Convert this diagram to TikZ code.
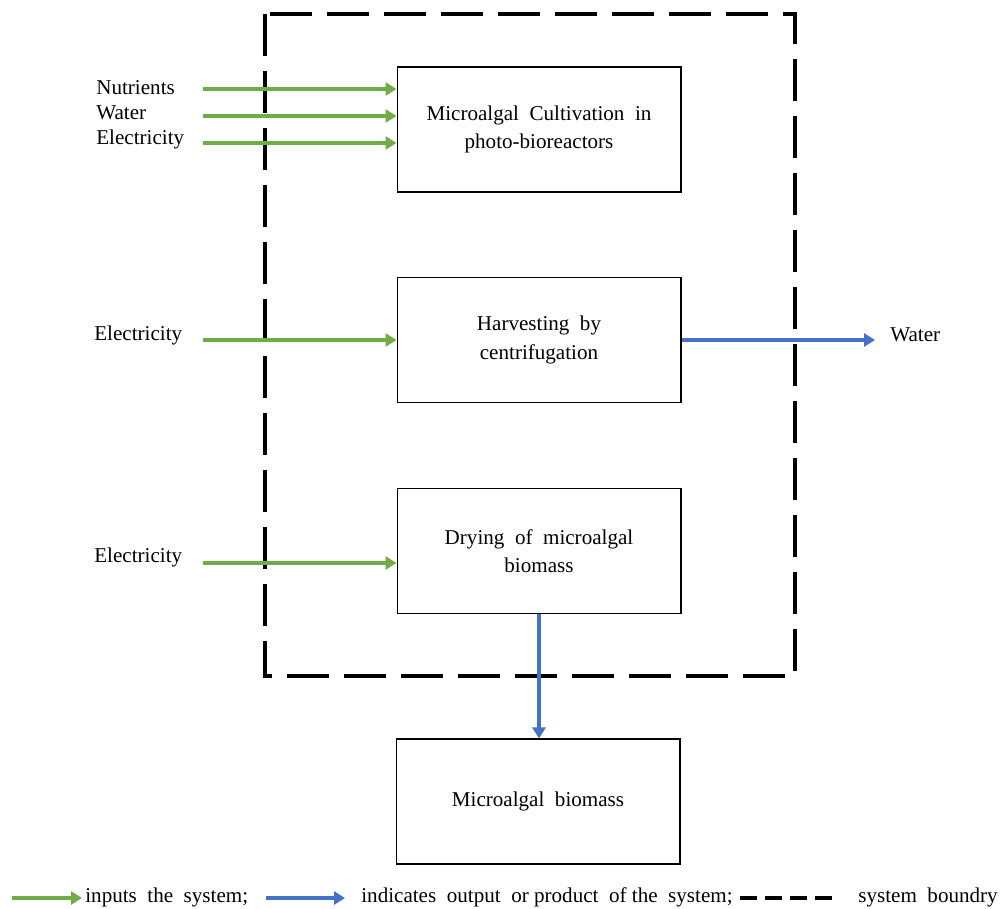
\documentclass[tikz,border=0pt]{standalone}
\usepackage{fontspec}
\setmainfont{Liberation Serif}
\usepackage{tikz}
\usetikzlibrary{arrows.meta}
\usetikzlibrary{positioning, calc}

\definecolor{ingreen}{RGB}{112,173,71}
\definecolor{outblue}{RGB}{68,114,196}

\begin{document}
\begin{tikzpicture}[x=0.02cm, y=-0.02cm, font=\fontsize{12}{16}\selectfont,
    inarrow/.style={draw=ingreen, line width=2.2pt, -{Triangle[length=0.22cm 0 0, width=0.26cm 0 0]}},
    outarrow/.style={draw=outblue, line width=2.2pt, -{Triangle[length=0.22cm 0 0, width=0.26cm 0 0]}},
    boundary/.style={line width=2.4pt, dash pattern=on 0.84cm off 0.3cm}]
    \useasboundingbox (0,0) rectangle (1007,909);

    % process boxes
    \begin{scope}[every node/.style={draw, line width=0.6pt, minimum width=5.68cm, minimum height=2.5cm, align=center}]
    \node (cult) at (539,129.5) {Microalgal\ \ Cultivation\ \ in\\photo-bioreactors};
    \node (harv) at (539,340) {Harvesting\ \ by\\centrifugation};
    \node (dry) at (539,551) {Drying\ \ of\ \ microalgal\\biomass};
    \node (bio) at (538,801.5) {Microalgal\ \ biomass};
    \end{scope}

    % system boundary
    \draw[boundary] (265,14) rectangle (795,676);

    % inputs
    \begin{scope}[every node/.style={anchor=west, inner sep=0pt}]
    \node (nut) at (96,88) {Nutrients};
    \node (wat) at (96,113) {Water};
    \node (el1) at (96,139) {Electricity};
    \node (el2) at (94,335) {Electricity};
    \node (el3) at (94,557) {Electricity};
    \node (wout) at (890,335) {Water};
    \end{scope}

    \coordinate (i1) at (203,89);
    \coordinate (i2) at (203,116);
    \coordinate (i3) at (203,143);
    \coordinate (i4) at (203,340);
    \coordinate (i5) at (203,563);
    \coordinate (o1) at (875,340);

    \draw[inarrow] (i1) -- (i1 -| cult.west);
    \draw[inarrow] (i2) -- (i2 -| cult.west);
    \draw[inarrow] (i3) -- (i3 -| cult.west);
    \draw[inarrow] (i4) -- (i4 -| harv.west);
    \draw[inarrow] (i5) -- (i5 -| dry.west);

    % outputs
    \draw[outarrow] (harv.east) -- (harv.east -| o1);
    \draw[outarrow] (dry.south) -- (dry.south |- bio.north);

    % legend
    \coordinate (lg1) at (12,898);
    \coordinate (lg2) at (82,898);
    \coordinate (lb1) at (266,898);
    \coordinate (lb2) at (345,898);
    \coordinate (ld1) at (740,898);
    \coordinate (ld2) at (833,898);
    \begin{scope}[every node/.style={anchor=west, inner sep=0pt}]
    \node (lgin) at (85,897) {inputs\ \ the\ \ system;};
    \node (lgout) at (361,897) {indicates\ \ output\ \ or\ product\ \ of\ the\ \ system;};
    \node (lgsb) at (858,897) {system\ \ boundry};
    \end{scope}
    \draw[inarrow] (lg1) -- (lg2);
    \draw[outarrow] (lb1) -- (lb2);
    \draw[line width=2.6pt, dash pattern=on 0.34cm off 0.16cm] (ld1) -- (ld2);
\end{tikzpicture}
\end{document}
